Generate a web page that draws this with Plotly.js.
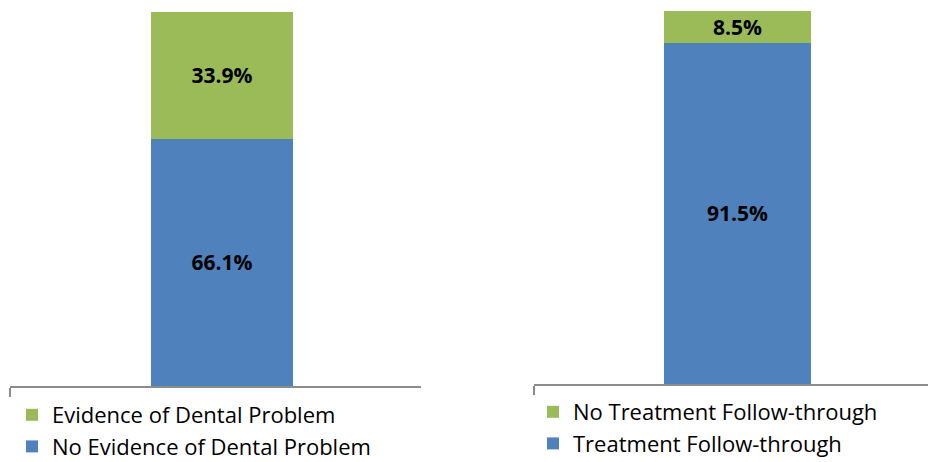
<!DOCTYPE html>
<html>
<head>
<meta charset="utf-8">
<script src="https://cdn.plot.ly/plotly-3.0.1.min.js"></script>
<style>html,body{margin:0;padding:0;background:#fff;}#chart{width:928px;height:462px;}</style>
</head>
<body>
<div id="chart"></div>
<script>
// Left panel: dental problem evidence
const leftNames = ["No Evidence of Dental Problem", "Evidence of Dental Problem"];
const leftValues = [66.1, 33.9];
// Right panel: treatment follow-through
const rightNames = ["Treatment Follow-through", "No Treatment Follow-through"];
const rightValues = [91.5, 8.5];
const colors = ["#4f81bd", "#9bbb59"];

const FONT = "Open Sans, Liberation Sans, Arial, sans-serif";

function mk(name, val, color, xa, ya, legend, rank) {
  return {
    type: "bar", x: [0], y: [val], width: [1], name: name,
    xaxis: xa, yaxis: ya, legend: legend, legendrank: rank,
    marker: {color: color, line: {width: 0}},
    texttemplate: "%{y:.1f}%", textposition: "inside", insidetextanchor: "middle",
    constraintext: "none",
    textfont: {family: FONT, size: 21, color: "#000", weight: "bold"},
    hoverinfo: "skip"
  };
}

const data = [
  mk(leftNames[0], leftValues[0], colors[0], "x", "y", "legend", 2),
  mk(leftNames[1], leftValues[1], colors[1], "x", "y", "legend", 1),
  mk(rightNames[0], rightValues[0], colors[0], "x2", "y2", "legend2", 2),
  mk(rightNames[1], rightValues[1], colors[1], "x2", "y2", "legend2", 1)
];

const axLine = {showline: true, linecolor: "#8c8c8c", linewidth: 2, showgrid: false, zeroline: false,
  showticklabels: false, ticks: "outside", ticklen: 9, tickwidth: 2, tickcolor: "#8c8c8c", fixedrange: true};

const legStyle = {font: {family: FONT, size: 22, color: "#000"}, bgcolor: "rgba(0,0,0,0)",
  traceorder: "normal", tracegroupgap: 0, itemclick: false, itemdoubleclick: false, yanchor: "top", xanchor: "left"};

const layout = {
  width: 928, height: 462,
  margin: {l: 0, r: 0, t: 0, b: 0, autoexpand: false},
  paper_bgcolor: "#fff", plot_bgcolor: "#fff",
  barmode: "stack", showlegend: true,
  xaxis: Object.assign({}, axLine, {domain: [10/928, 421/928], range: [-1.493, 1.401], tickvals: [-1.493], anchor: "y"}),
  yaxis: {domain: [76/462, 450/462], range: [0, 100], visible: false, fixedrange: true, anchor: "x"},
  xaxis2: Object.assign({}, axLine, {domain: [534/928, 1], range: [-1.384, 1.296], tickvals: [-1.384], anchor: "y2"}),
  yaxis2: {domain: [78/462, 451/462], range: [0, 100], visible: false, fixedrange: true, anchor: "x2"},
  legend: Object.assign({}, legStyle, {x: 12/928, y: 68/462}),
  legend2: Object.assign({}, legStyle, {x: 533/928, y: 71/462})
};

Plotly.newPlot("chart", data, layout, {displayModeBar: false, staticPlot: true});
</script>
</body>
</html>
